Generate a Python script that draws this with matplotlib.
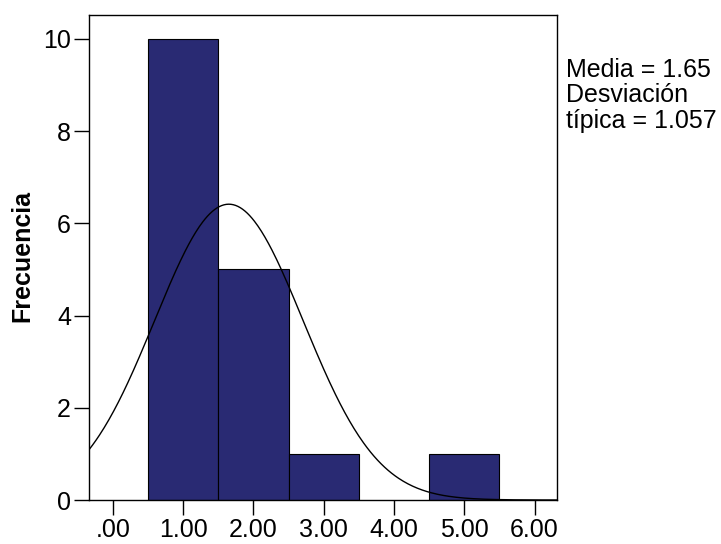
import numpy as np
import matplotlib.pyplot as plt

bin_centers = [1.0, 2.0, 3.0, 5.0]
counts = [10, 5, 1, 1]
bin_width = 1.0
mean = 1.65
std = 1.057
n_total = 17
x_ticks = [0, 1, 2, 3, 4, 5, 6]
x_labels = ['.00', '1.00', '2.00', '3.00', '4.00', '5.00', '6.00']
y_ticks = [0, 2, 4, 6, 8, 10]

plt.rcParams['font.family'] = ['Liberation Sans', 'DejaVu Sans']

fig = plt.figure(figsize=(7.21, 5.44), dpi=100)
fig.patch.set_facecolor('white')
ax = fig.add_axes([89/721, 1 - 500/544, (557 - 89)/721, (500 - 15)/544])

ax.bar(bin_centers, counts, width=bin_width, color='#292A73',
       edgecolor='black', linewidth=0.8, zorder=2)

xmin, xmax = -0.34, 6.32
xs = np.linspace(xmin, xmax, 400)
pdf = n_total * bin_width / (std * np.sqrt(2 * np.pi)) * np.exp(-0.5 * ((xs - mean) / std) ** 2)
ax.plot(xs, pdf, color='black', linewidth=1.0, zorder=3)

ax.set_xlim(xmin, xmax)
ax.set_ylim(0, 10.52)
ax.set_xticks(x_ticks)
ax.set_xticklabels(x_labels)
ax.set_yticks(y_ticks)
ax.tick_params(axis='both', direction='out', length=11, width=1,
               labelsize=18, color='black', pad=2)
for s in ax.spines.values():
    s.set_linewidth(1.0)
    s.set_color('black')

fig.text(22/721, 1 - 256/544, 'Frecuencia', rotation=90, ha='center', va='center',
         fontsize=18, fontweight='bold')

fig.text(566/721, 1 - 58/544, 'Media = 1.65\nDesviación\ntípica = 1.057',
         ha='left', va='top', fontsize=18, linespacing=1.07)

fig.savefig('out.png', dpi=100)
